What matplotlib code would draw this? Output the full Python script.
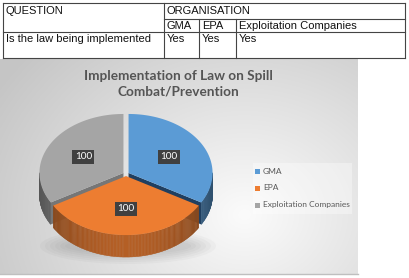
import matplotlib
matplotlib.use("Agg")
import matplotlib.pyplot as plt
import numpy
from matplotlib.patches import Polygon, Rectangle, Ellipse

# table content
header_question = "QUESTION"
header_org = "ORGANISATION"
organisations = ["GMA", "EPA", "Exploitation Companies"]
question = "Is the law being implemented"
answers = ["Yes", "Yes", "Yes"]

# chart content
title = "Implementation of Law on Spill\nCombat/Prevention"
labels = ["GMA", "EPA", "Exploitation Companies"]
values = [100, 100, 100]
top_colors = ["#5B9BD5", "#ED7D31", "#A5A5A5"]
face_colors = ["#203F60", "#7A3A10", "#767676"]

W, H = 410, 278
fig = plt.figure(figsize=(W / 100, H / 100), dpi=100)
ax = fig.add_axes([0, 0, 1, 1])
ax.set_xlim(0, W)
ax.set_ylim(H, 0)
ax.axis("off")

# ---- table ----
tfont = dict(family="Liberation Sans", fontsize=8.0, color="#111111", va="center", ha="left")
lc = "#444444"
lw = 0.8
x_left, x_q, x_gma, x_epa, x_right = 3, 164, 199, 236, 405
y_top, y_sub, y_row, y_bot = 3, 19, 32, 58
for y, xa in [(y_top, x_left), (y_sub, x_q), (y_row, x_left), (y_bot, x_left)]:
    ax.plot([xa, x_right], [y, y], color=lc, lw=lw)
for x in [x_left, x_q, x_right]:
    ax.plot([x, x], [y_top, y_bot], color=lc, lw=lw)
for x in [x_gma, x_epa]:
    ax.plot([x, x], [y_sub, y_bot], color=lc, lw=lw)
ax.text(x_left + 3, 11.5, header_question, **tfont)
ax.text(x_q + 3, 11.5, header_org, **tfont)
ax.text(x_left + 3, 39.5, question, **tfont)
for x, org, ans in zip([x_q, x_gma, x_epa], organisations, answers):
    ax.text(x + 3, 26, org, **tfont)
    ax.text(x + 3, 39.5, ans, **tfont)

# ---- chart background (radial gradient) ----
bx0, bx1, by0, by1 = 0, 358, 59, 274
gx, gy = numpy.meshgrid(numpy.linspace(bx0, bx1, 200), numpy.linspace(by0, by1, 120))
d = numpy.sqrt((gx - 245) ** 2 + ((gy - 215) * 1.2) ** 2)
v = 0.985 - 0.21 * numpy.clip(d / 290, 0, 1)
img = numpy.dstack([v, v, v])
ax.imshow(img, extent=[bx0, bx1, by1, by0], aspect="auto", interpolation="bilinear", zorder=0)
ax.plot([bx0, bx1], [by1, by1], color="#BFBFBF", lw=1, zorder=1)

ax.text(178, 84, title, ha="center", va="center", fontsize=9.8, fontweight="bold",
        family="Lato", color="#555555", linespacing=1.4, zorder=5)

# ---- 3d pie ----
cx, cy = 126, 174
a, b = 84, 59
depth = 22
expl = 0.035


def pt(t, ox, oy, dz=0):
    return (cx + ox + a * numpy.cos(t), cy + oy - b * numpy.sin(t) + dz)


# shadow
for k in range(6):
    ax.add_patch(Ellipse((128, 246), 176 - k * 10, 36 - k * 4, color="black",
                         alpha=0.025, lw=0, zorder=1))

total = sum(values)
angles = [90]
for val in values:
    angles.append(angles[-1] - 360 * val / total)
# slice i spans angles[i+1]..angles[i] (clockwise from 12 o'clock)
slices = []
for i in range(len(values)):
    t1, t2 = numpy.radians(angles[i + 1]), numpy.radians(angles[i])
    mid = (t1 + t2) / 2
    ox = expl * a * numpy.cos(mid)
    oy = -expl * b * numpy.sin(mid)
    slices.append((t1, t2, mid, ox, oy))

# draw back slices first, the front slice (EPA) last
order = [0, 2, 1]
for z, i in enumerate(order):
    t1, t2, mid, ox, oy = slices[i]
    base = 2 + z * 3
    top = numpy.array(matplotlib.colors.to_rgb(top_colors[i]))
    # radial faces
    for te, nrm in [(t1, t1 - numpy.pi / 2), (t2, t2 + numpy.pi / 2)]:
        if numpy.sin(nrm) < -0.05:
            p0 = (cx + ox, cy + oy)
            p1 = pt(te, ox, oy)
            poly = [p0, p1, (p1[0], p1[1] + depth), (p0[0], p0[1] + depth)]
            ax.add_patch(Polygon(poly, closed=True, color=face_colors[i], lw=0, zorder=base))
    # outer wall, front part only
    ts = numpy.linspace(t1, t2, 120)
    for j in range(len(ts) - 1):
        ta, tb = ts[j], ts[j + 1]
        if numpy.sin((ta + tb) / 2) >= 0:
            continue
        shade = 0.52 + 0.24 * (-numpy.sin((ta + tb) / 2)) ** 2
        col = numpy.clip(top * shade, 0, 1)
        pa, pb = pt(ta, ox, oy), pt(tb, ox, oy)
        poly = [pa, pb, (pb[0], pb[1] + depth), (pa[0], pa[1] + depth)]
        ax.add_patch(Polygon(poly, closed=True, facecolor=col, edgecolor=col, lw=0.3,
                             zorder=base))
    # top surface
    arc = [pt(t, ox, oy) for t in ts]
    poly = [(cx + ox, cy + oy)] + arc
    ax.add_patch(Polygon(poly, closed=True, color=top_colors[i], lw=0, zorder=base + 1))

# data labels
for i, val in enumerate(values):
    t1, t2, mid, ox, oy = slices[i]
    lx = cx + ox + 0.55 * a * numpy.cos(mid)
    ly = cy + oy - 0.55 * b * numpy.sin(mid)
    ax.add_patch(Rectangle((lx - 11, ly - 7), 22, 14, color="#404040", lw=0, zorder=12))
    ax.text(lx, ly, str(val), ha="center", va="center", color="white", fontsize=7.2,
            family="Lato", zorder=13)

# legend
ax.add_patch(Rectangle((253, 163), 99, 51, color="white", alpha=0.35, lw=0, zorder=3))
for k, (lab, col) in enumerate(zip(labels, top_colors)):
    ly = 171 + k * 17
    ax.add_patch(Rectangle((255, ly - 2.5), 5, 5, color=col, lw=0, zorder=4))
    ax.text(263, ly, lab, ha="left", va="center", fontsize=6.0, family="Lato",
            color="#595959", zorder=4)

fig.savefig("out.png", dpi=100)
